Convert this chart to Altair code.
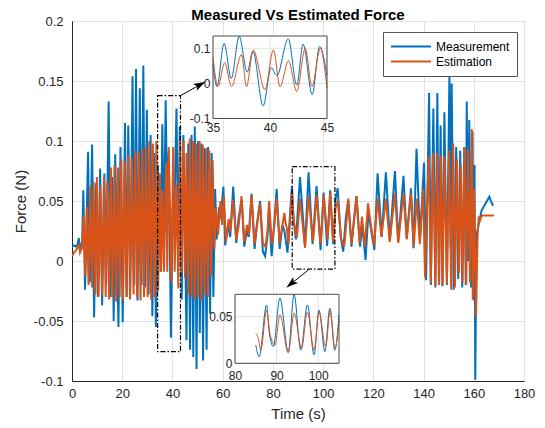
import altair as alt
import pandas as pd

# ---------------- data ----------------
series_names = ["Measurement", "Estimation"]

t_meas = [0.0, 0.8, 1.6, 2.3, 2.7, 3.1, 3.7, 4.0,
          4.5, 5.2, 5.8, 6.4, 7.1, 8.0, 8.8, 9.6, 10.3, 11.2, 12.0, 12.9, 13.6, 14.6, 15.4, 16.0,
          16.6, 17.2, 18.5, 19.3, 20.2, 21.1, 21.8, 22.4, 23.2, 24.1, 24.8, 25.5, 26.1, 27.0,
          27.7, 28.4, 29.1, 29.8, 30.5, 31.3, 32.0, 32.7, 33.4, 34.2, 34.7,
          35.0, 35.35, 35.97, 36.6, 37.3, 38.0, 38.5, 39.4, 40.1, 40.6, 41.6, 42.35, 42.9, 43.7, 44.35, 45.0,
          45.6, 46.3, 47.0, 47.6, 48.3, 48.9, 49.6, 50.2, 50.9, 51.5, 52.2, 52.8, 53.6, 54.2, 55.0, 55.6, 56.3, 57.0,
          57.6, 58.6, 59.2, 60.3, 61.0, 62.2, 63.0, 64.2, 65.4, 66.3, 67.6, 68.6, 69.6, 70.4, 71.5, 72.7,
          73.6, 74.9, 76.0, 76.9, 77.8, 78.4, 79.5, 80.5, 81.5, 82.7, 83.8, 84.6,
          85.0, 85.8, 87.6, 88.2, 89.2, 90.8, 92.8, 94.2, 95.8, 97.4, 99.0, 100.2, 101.6, 102.8, 104.0, 105.0,
          105.8, 107.0, 108.0, 109.0, 110.0, 111.3, 112.3, 113.3, 114.7, 115.6, 116.9, 118.0, 118.8, 120.4,
          121.7, 123.3, 125.0, 126.6, 128.6, 129.9, 132.0, 133.3, 135.0, 136.0, 137.2, 138.6, 140.2, 141.0,
          142.2, 142.9, 143.9, 144.7, 145.5, 146.1, 146.8, 147.5, 148.3, 149.3, 150.3, 150.8, 151.2, 152.0,
          153.0, 153.8, 154.6, 155.4, 156.2, 156.8, 157.2, 157.7, 158.2, 158.9, 159.5, 160.0, 160.3, 160.6,
          161.1, 163.1, 166.2, 167.0, 167.7]
f_meas = [0.012, 0.013, 0.012, 0.014, 0.019, 0.011, 0.014, 0.010,
          0.059, -0.024, 0.030, 0.091, -0.018, 0.097, -0.047, 0.065, -0.030, 0.077, -0.037, 0.073, -0.020, 0.133, -0.030, 0.070,
          -0.050, 0.089, -0.055, 0.095, -0.051, 0.115, -0.030, 0.113, -0.025, 0.154, -0.020, 0.160, -0.033, 0.144,
          -0.020, 0.163, -0.022, 0.126, -0.028, 0.105, -0.046, 0.090, -0.055, 0.080, 0.030,
          0.055, -0.009, 0.114, 0.014, 0.134, 0.032, 0.091, -0.064, 0.045, 0.022, 0.127, -0.005, 0.112, -0.032, 0.105, 0.023,
          -0.066, 0.098, -0.074, 0.105, -0.080, 0.112, -0.090, 0.100, -0.060, 0.098, -0.083, 0.094, -0.074, 0.095, -0.044, 0.090, -0.030, 0.060,
          0.018, 0.045, 0.035, 0.062, 0.013, 0.030, 0.020, 0.062, 0.015, 0.035, 0.051, 0.012, 0.025, 0.020, 0.056, 0.010,
          0.030, 0.050, 0.008, 0.004, 0.020, 0.044, 0.004, 0.030, 0.060, 0.010, 0.030, 0.025,
          0.0196, 0.007, 0.0625, 0.034, 0.018, 0.070, 0.0125, 0.074, 0.014, 0.0625, 0.009, 0.057, 0.0125, 0.059, 0.014, 0.052,
          0.0606, 0.020, 0.0078, 0.035, 0.051, 0.0119, 0.035, 0.054, 0.012, 0.030, 0.0008, 0.040, 0.030, 0.0092,
          0.073, 0.020, 0.074, 0.017, 0.075, 0.016, 0.071, 0.019, 0.0606, 0.0106, 0.0935, 0.018, 0.082, -0.016,
          0.140, -0.020, 0.127, -0.022, 0.140, -0.020, 0.113, -0.021, 0.124, -0.020, 0.156, 0.010, 0.148, -0.024,
          0.095, -0.015, 0.092, -0.022, 0.095, -0.020, 0.133, 0.000, 0.1175, -0.022, 0.108, -0.033, 0.080, -0.099,
          0.022, 0.042, 0.0536, 0.049, 0.046]

t_est = [0.0, 0.8, 1.6, 2.3, 2.8, 3.2, 3.8, 4.1,
         4.6, 5.3, 5.9, 6.6, 7.3, 8.0, 8.6, 9.3, 9.9, 10.6, 11.3, 12.0, 12.7, 13.4, 14.1, 14.8, 15.5, 16.2,
         16.9, 17.6, 18.3, 19.0, 19.6, 20.3, 21.0, 21.7, 22.4, 23.1, 23.8, 24.5, 25.2, 25.9, 26.6, 27.3,
         28.0, 28.7, 29.4, 30.1, 30.8, 31.5, 32.2, 32.9, 33.6, 34.3,
         35.0, 35.44, 36.03, 36.62, 37.5, 37.94, 38.53, 39.56, 40.3, 40.88, 41.62, 42.35, 43.09, 43.68, 44.41, 45.0,
         45.6, 46.3, 46.9, 47.6, 48.2, 48.9, 49.5, 50.2, 50.8, 51.5, 52.1, 52.8, 53.4, 54.1, 54.7, 55.4, 56.0, 56.7, 57.3,
         58.2, 59.1, 59.8, 60.5, 61.3, 62.4, 63.1, 64.2, 65.4, 66.4, 67.5, 68.6, 69.7, 70.5, 71.5, 72.7,
         73.7, 74.9, 76.0, 77.0, 77.9, 78.5, 79.6, 80.6, 81.5, 82.7, 83.8, 84.6,
         85.0, 85.6, 86.2, 87.6, 88.4, 89.6, 90.8, 92.8, 94.2, 96.0, 97.4, 99.0, 100.2, 101.8, 102.9, 104.0, 105.0,
         105.9, 107.2, 108.4, 109.4, 110.0, 111.3, 112.4, 113.3, 114.5, 115.5, 116.6, 117.9, 119.0, 120.3,
         121.7, 123.2, 125.0, 126.5, 128.6, 129.9, 132.0, 133.3, 135.0, 136.1, 137.3, 138.5, 139.8, 140.6, 141.3,
         142.1, 142.9, 143.8, 144.7, 145.5, 146.2, 146.9, 147.6, 148.4, 149.3, 150.2, 151.0, 151.8, 152.5,
         153.3, 154.1, 154.8, 155.5, 156.3, 157.0, 157.7, 158.5, 159.2, 159.6, 160.1, 160.9, 161.5, 162.0,
         162.5, 163.2, 168.0]
f_est = [0.004, 0.007, 0.009, 0.011, 0.014, 0.007, 0.010, 0.014,
         0.038, -0.012, 0.045, -0.020, 0.062, -0.022, 0.066, -0.028, 0.070, -0.030, 0.062, -0.028, 0.070, -0.030, 0.066, -0.032, 0.078, -0.030,
         0.080, -0.034, 0.078, -0.030, 0.085, -0.033, 0.083, -0.030, 0.088, -0.032, 0.086, -0.028, 0.092, -0.030, 0.090, -0.033,
         0.094, -0.030, 0.095, -0.030, 0.100, -0.032, 0.098, -0.030, 0.100, -0.025,
         0.073, -0.009, 0.059, -0.009, 0.082, -0.009, 0.095, -0.018, 0.095, -0.009, 0.064, -0.023, 0.100, -0.009, 0.100, -0.014,
         0.090, -0.028, 0.102, -0.030, 0.100, -0.032, 0.098, -0.030, 0.100, -0.033, 0.097, -0.028, 0.094, -0.030, 0.092, -0.013, 0.084, 0.010, 0.045,
         0.022, 0.050, 0.030, 0.054, 0.016, 0.035, 0.025, 0.051, 0.018, 0.030, 0.054, 0.016, 0.030, 0.022, 0.055, 0.014,
         0.030, 0.048, 0.015, 0.012, 0.025, 0.050, 0.014, 0.030, 0.052, 0.015, 0.030, 0.040,
         0.032, 0.027, 0.014, 0.057, 0.032, 0.0196, 0.052, 0.011, 0.054, 0.016, 0.055, 0.014, 0.055, 0.018, 0.057, 0.016, 0.045,
         0.049, 0.018, 0.012, 0.035, 0.052, 0.014, 0.035, 0.054, 0.015, 0.037, 0.012, 0.048, 0.030, 0.013,
         0.052, 0.020, 0.052, 0.016, 0.056, 0.015, 0.056, 0.018, 0.056, 0.012, 0.052, 0.014, 0.060, -0.014, 0.040,
         0.087, -0.018, 0.090, -0.021, 0.090, -0.020, 0.088, -0.020, 0.087, -0.019, 0.092, -0.024, 0.098, -0.022,
         0.085, -0.010, 0.080, -0.018, 0.095, -0.020, 0.093, -0.018, 0.110, -0.032, 0.060, -0.046, 0.020, 0.037,
         0.034, 0.038, 0.038]

x_domain = [0, 180]
y_domain = [-0.1, 0.2]
x_ticks = [0, 20, 40, 60, 80, 100, 120, 140, 160, 180]
y_ticks = [-0.1, -0.05, 0, 0.05, 0.1, 0.15, 0.2]

# zoom windows (dash-dot boxes) and arrows, in data units
box_t0 = [34.1, 87.7]
box_t1 = [43.2, 104.7]
box_f0 = [-0.0756, -0.0067]
box_f1 = [0.1378, 0.0786]
arrow_t0 = [43.2, 94.1]
arrow_f0 = [0.1378, -0.0075]
arrow_t1 = [53.0, 85.5]
arrow_f1 = [0.1492, -0.0219]
arrow_angle = [62, 231]

# insets
inset1_x_domain = [35, 45]
inset1_y_domain = [-0.1, 0.135]
inset1_x_ticks = [35, 40, 45]
inset1_y_ticks = [-0.1, 0, 0.1]
inset1_window = [35, 45]
inset2_x_domain = [80, 105]
inset2_y_domain = [0, 0.074]
inset2_x_ticks = [80, 90, 100]
inset2_y_ticks = [0, 0.05]
inset2_window = [85, 105]

# ---------------- styling ----------------
W, H = 452, 360
BLUE = "#0072BD"
ORANGE = "#D95319"
INK = "#262626"
GRID = "#e2e2e2"
FONT = "Liberation Sans"
LABEL_EXPR = "replace(format(datum.value, '~g'), '\u2212', '-')"
ARROW_PATH = "M0,0L-0.75,2.2L0,1.7L0.75,2.2Z"

df_meas = pd.DataFrame({"t": t_meas, "f": f_meas, "series": series_names[0]})
df_est = pd.DataFrame({"t": t_est, "f": f_est, "series": series_names[1]})
df_box = pd.DataFrame({"t0": box_t0, "t1": box_t1, "f0": box_f0, "f1": box_f1})
df_arrow = pd.DataFrame({"t0": arrow_t0, "t1": arrow_t1, "f0": arrow_f0, "f1": arrow_f1, "angle": arrow_angle})

xs = alt.Scale(domain=x_domain, nice=False, zero=False)
ys = alt.Scale(domain=y_domain, nice=False, zero=False)
ax_x = alt.Axis(values=x_ticks, title="Time (s)", grid=True, gridColor=GRID, domainColor=INK,
                ticks=False, labelFontSize=13, labelPadding=6, labelColor=INK, labelFont=FONT,
                labelFlush=False, labelOverlap=False, titleFont=FONT, titleFontSize=15,
                titleFontWeight="normal", titleColor=INK, titlePadding=6)
ax_y = alt.Axis(values=y_ticks, title="Force (N)", grid=True, gridColor=GRID, domainColor=INK,
                ticks=False, labelFontSize=13, labelPadding=9, labelColor=INK, labelFont=FONT,
                labelFlush=False, labelOverlap=False, labelExpr=LABEL_EXPR, titleFont=FONT,
                titleFontSize=15, titleFontWeight="normal", titleColor=INK, titlePadding=5)
cs = alt.Scale(domain=series_names, range=[BLUE, ORANGE])
lg = alt.Legend(title=None, orient="none", legendX=311, legendY=11, direction="vertical",
                fillColor="white", strokeColor="#555555", padding=7, symbolType="stroke",
                symbolSize=1600, symbolStrokeWidth=2, labelFontSize=12, labelFont=FONT,
                labelColor="#000000", clipHeight=15, rowPadding=0, labelOffset=4, cornerRadius=0)

X = alt.X("t:Q", scale=xs, axis=ax_x)
Y = alt.Y("f:Q", scale=ys, axis=ax_y)

blue_line = alt.Chart(df_meas).mark_line(strokeWidth=2, clip=True).encode(
    x=X, y=Y, color=alt.Color("series:N", scale=cs, legend=lg))
orange_line = alt.Chart(df_est).mark_line(strokeWidth=2, clip=True).encode(
    x=X, y=Y, color=alt.Color("series:N", scale=cs, legend=lg))
boxes = alt.Chart(df_box).mark_rect(fill="white", fillOpacity=0, stroke="black", strokeWidth=1.2,
                                    strokeDash=[5, 2, 1.5, 2]).encode(
    x=alt.X("t0:Q", scale=xs, axis=ax_x), x2="t1:Q",
    y=alt.Y("f0:Q", scale=ys, axis=ax_y), y2="f1:Q")
arrows = alt.Chart(df_arrow).mark_rule(color="black", strokeWidth=1).encode(
    x=alt.X("t0:Q", scale=xs, axis=ax_x), x2="t1:Q",
    y=alt.Y("f0:Q", scale=ys, axis=ax_y), y2="f1:Q")
heads = alt.Chart(df_arrow).mark_point(shape=ARROW_PATH, filled=True, color="black", opacity=1,
                                       size=110, strokeWidth=0).encode(
    x=alt.X("t1:Q", scale=xs, axis=ax_x), y=alt.Y("f1:Q", scale=ys, axis=ax_y),
    angle=alt.Angle("angle:Q", scale=None))

main = alt.layer(blue_line, orange_line, boxes, arrows, heads)


def make_inset(xdom, ydom, xr, yr, xt, yt, window, xpad):
    sx = alt.Scale(domain=xdom, range=xr, nice=False, zero=False)
    sy = alt.Scale(domain=ydom, range=yr, nice=False, zero=False)
    axx = alt.Axis(values=xt, orient="bottom", offset=-(H - yr[0]), title=None, grid=False,
                   domain=False, ticks=False, labelFontSize=12, labelPadding=xpad, labelColor=INK,
                   labelFont=FONT, labelFlush=False, labelOverlap=False, zindex=2)
    axy = alt.Axis(values=yt, orient="left", offset=-xr[0], title=None, grid=False,
                   domain=False, ticks=False, labelFontSize=12, labelPadding=3, labelColor=INK,
                   labelFont=FONT, labelFlush=False, labelOverlap=False, labelExpr=LABEL_EXPR, zindex=2)
    frame_df = pd.DataFrame({"x0": [xdom[0]], "x1": [xdom[1]], "y0": [ydom[0]], "y1": [ydom[1]]})
    bg = alt.Chart(frame_df).mark_rect(fill="white", strokeWidth=0).encode(
        x=alt.X("x0:Q", scale=sx, axis=axx), x2="x1:Q",
        y=alt.Y("y0:Q", scale=sy, axis=axy), y2="y1:Q")
    vg = alt.Chart(pd.DataFrame({"v": xt, "y0": ydom[0], "y1": ydom[1]})).mark_rule(
        color=GRID, strokeWidth=1).encode(
        x=alt.X("v:Q", scale=sx, axis=axx), y=alt.Y("y0:Q", scale=sy, axis=axy), y2="y1:Q")
    hg = alt.Chart(pd.DataFrame({"v": yt, "x0": xdom[0], "x1": xdom[1]})).mark_rule(
        color=GRID, strokeWidth=1).encode(
        y=alt.Y("v:Q", scale=sy, axis=axy), x=alt.X("x0:Q", scale=sx, axis=axx), x2="x1:Q")
    pred = alt.FieldRangePredicate(field="t", range=window)
    lb = alt.Chart(df_meas).transform_filter(pred).mark_line(
        color=BLUE, strokeWidth=1, interpolate="monotone", clip=True).encode(
        x=alt.X("t:Q", scale=sx, axis=axx), y=alt.Y("f:Q", scale=sy, axis=axy))
    lo = alt.Chart(df_est).transform_filter(pred).mark_line(
        color=ORANGE, strokeWidth=1, interpolate="monotone", clip=True).encode(
        x=alt.X("t:Q", scale=sx, axis=axx), y=alt.Y("f:Q", scale=sy, axis=axy))
    frame = alt.Chart(frame_df).mark_rect(fill="white", fillOpacity=0, stroke="#4d4d4d",
                                          strokeWidth=1).encode(
        x=alt.X("x0:Q", scale=sx, axis=axx), x2="x1:Q",
        y=alt.Y("y0:Q", scale=sy, axis=axy), y2="y1:Q")
    return alt.layer(bg, vg, hg, lb, lo, frame)


inset1 = make_inset(inset1_x_domain, inset1_y_domain, [141, 255], [97.5, 15],
                    inset1_x_ticks, inset1_y_ticks, inset1_window, 4)
inset2 = make_inset(inset2_x_domain, inset2_y_domain, [163, 267], [342.3, 273.3],
                    inset2_x_ticks, inset2_y_ticks, inset2_window, 7)

chart = alt.layer(main, inset1, inset2).resolve_scale(
    x="independent", y="independent"
).properties(
    width=W, height=H,
    title=alt.TitleParams("Measured Vs Estimated Force", fontSize=15, fontWeight="bold",
                          font=FONT, color="#000000", anchor="middle", frame="group", offset=0, dy=8),
    padding={"left": 64, "top": 13, "right": 13, "bottom": 47},
    autosize="none",
).configure_view(stroke=INK, strokeWidth=1)

chart.save("out.html", embed_options={"renderer": "svg", "actions": False})
